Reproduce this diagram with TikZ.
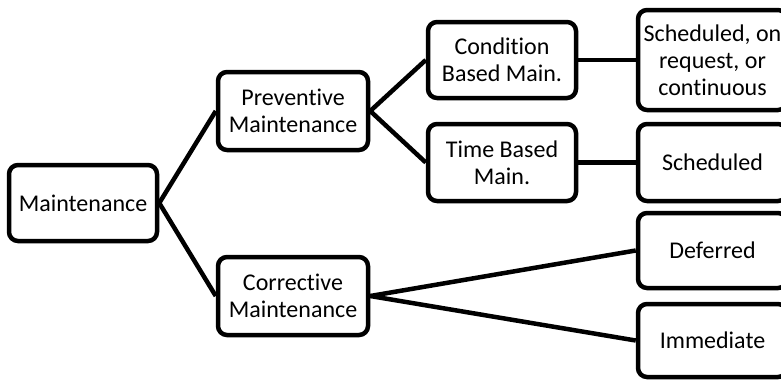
\documentclass[tikz,border=0pt]{standalone}
\usepackage{fontspec}
\setmainfont[Ligatures=NoCommon]{Carlito}
\begin{document}
\begin{tikzpicture}[x=1pt,y=-1pt,
  box/.style={draw=black,line width=4.5pt,rounded corners=9pt,fill=white,
    align=center,inner sep=0pt,font=\fontsize{24}{27}\selectfont},
  link/.style={draw=black,line width=4.5pt}]
\clip (0,0) rectangle (781,381);
\fill[white] (0,0) rectangle (781,381);
% nodes
\node[box,minimum width=148pt,minimum height=76pt] (m) at (83,203) {Maintenance};
\node[box,minimum width=150pt,minimum height=78pt] (p) at (293,111) {Preventive\\Maintenance};
\node[box,minimum width=150pt,minimum height=78pt] (c) at (293,296) {Corrective\\Maintenance};
\node[box,minimum width=148pt,minimum height=76pt] (cb) at (502,60) {Condition\\Based Main.};
\node[box,minimum width=148pt,minimum height=77pt] (tb) at (502,162.5) {Time Based\\Main.};
\node[box,minimum width=149pt,minimum height=100pt] (so) at (712.5,60) {Scheduled, on\\request, or\\continuous};
\node[box,minimum width=149pt,minimum height=77pt] (s) at (712.5,162.5) {Scheduled};
\node[box,minimum width=149pt,minimum height=75pt] (d) at (712.5,250.5) {Deferred};
\node[box,minimum width=149pt,minimum height=73pt] (i) at (712.5,340.5) {Immediate};
% connectors
\draw[link] (m.east) -- (p.west);
\draw[link] (m.east) -- (c.west);
\draw[link] (p.east) -- (cb.west);
\draw[link] (p.east) -- (tb.west);
\draw[link] (cb.east) -- (so.west);
\draw[link] (tb.east) -- (s.west);
\draw[link] (c.east) -- (d.west);
\draw[link] (c.east) -- (i.west);
\end{tikzpicture}
\end{document}
